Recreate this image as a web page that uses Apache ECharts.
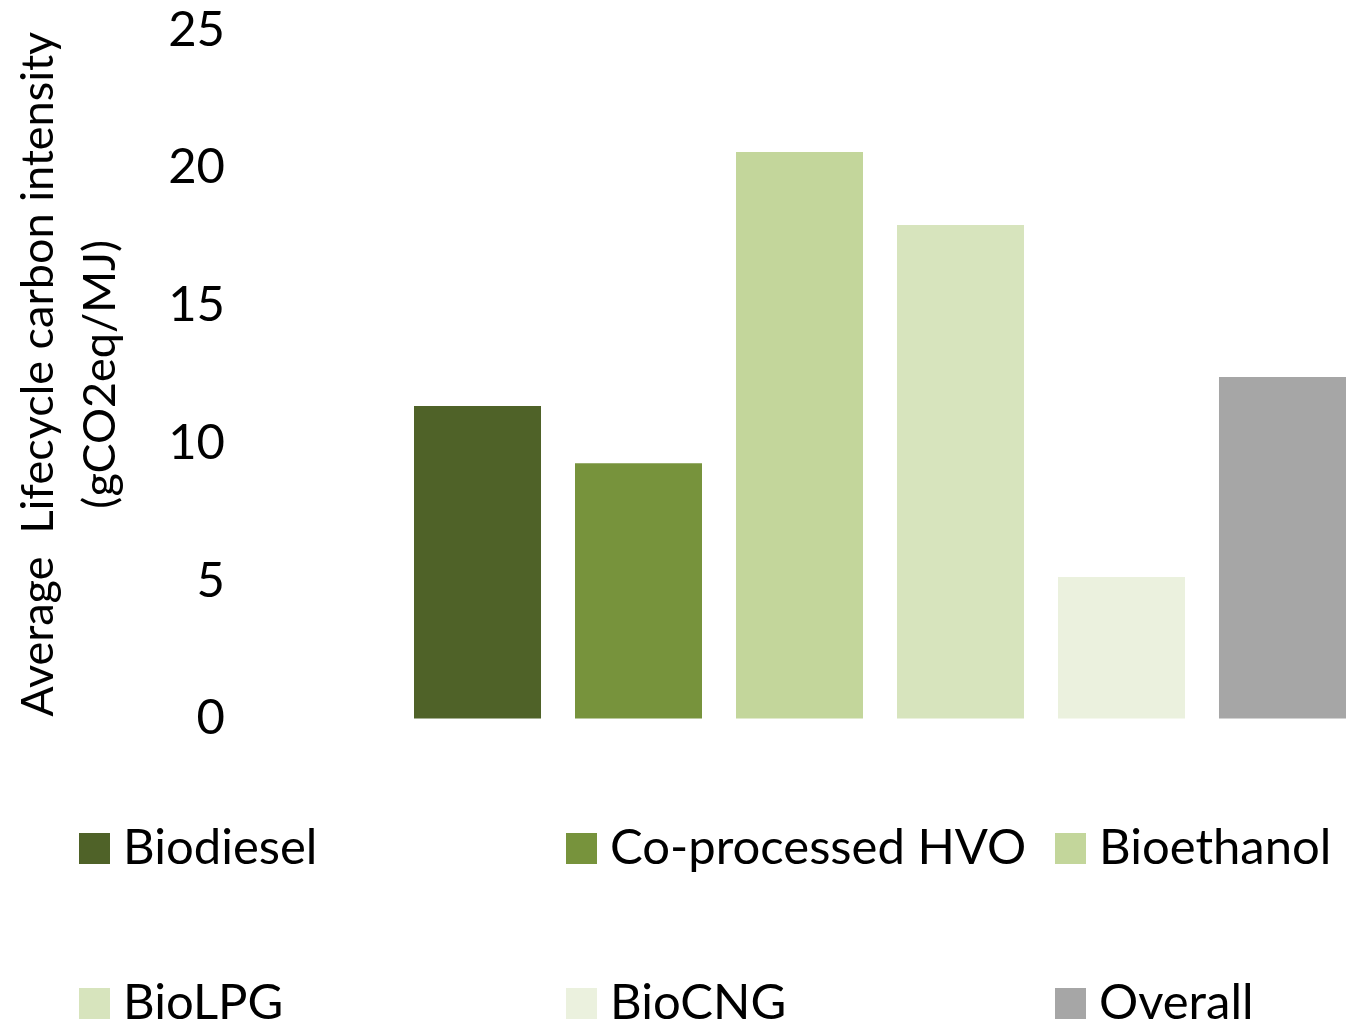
<!DOCTYPE html>
<html>
<head>
<meta charset="utf-8">
<script src="https://cdn.jsdelivr.net/npm/echarts@6/dist/echarts.min.js"></script>
<style>
  html, body { margin: 0; padding: 0; background: #fff; }
  #chart { width: 1346px; height: 1023px; }
</style>
</head>
<body>
<div id="chart"></div>
<script>
var fuels = ['Biodiesel', 'Co-processed HVO', 'Bioethanol', 'BioLPG', 'BioCNG', 'Overall'];
var intensity = [11.35, 9.27, 20.57, 17.92, 5.14, 12.4];
var colors = ['#4F6228', '#77933C', '#C3D69B', '#D7E4BD', '#EBF1DE', '#A6A6A6'];
var yTicks = [0, 5, 10, 15, 20, 25];

var font = 'Lato';
var fontSize = 49;

var chart = echarts.init(document.getElementById('chart'));

// legend is laid out as 3 columns x 2 rows, one legend block per item
var legendCols = [79, 566, 1055];
var legendRows = [824, 979];
var legends = fuels.map(function (name, i) {
    return {
        data: [name],
        left: legendCols[i % 3],
        top: legendRows[Math.floor(i / 3)],
        padding: 0,
        icon: 'rect',
        itemWidth: 31,
        itemHeight: 31,
        itemGap: 0,
        textStyle: {
            fontFamily: font,
            fontSize: fontSize,
            color: '#000',
            lineHeight: 31,
            padding: [0, 0, 0, 8]
        }
    };
});

var series = fuels.map(function (name, i) {
    return {
        name: name,
        type: 'bar',
        barWidth: 127,
        barGap: '26.77%',
        itemStyle: { color: colors[i] },
        data: [intensity[i]]
    };
});

var option = {
    animation: false,
    backgroundColor: '#fff',
    legend: legends,
    grid: {
        left: 414,
        right: 0,
        top: 30,
        bottom: 304.5,
        containLabel: false,
        outerBoundsMode: 'none'
    },
    xAxis: {
        type: 'category',
        data: [''],
        axisLine: { show: false },
        axisTick: { show: false },
        axisLabel: { show: false }
    },
    yAxis: {
        type: 'value',
        min: yTicks[0],
        max: yTicks[yTicks.length - 1],
        interval: 5,
        name: 'Average  Lifecycle carbon intensity\n(gCO2eq/MJ)',
        nameLocation: 'middle',
        nameRotate: 90,
        nameGap: 283,
        nameTextStyle: {
            fontFamily: font,
            fontSize: 45,
            color: '#000',
            lineHeight: 62
        },
        axisLine: { show: false },
        axisTick: { show: false },
        splitLine: { show: false },
        axisLabel: {
            margin: 189,
            fontFamily: font,
            fontSize: fontSize,
            color: '#000'
        }
    },
    series: series
};

chart.setOption(option);
</script>
</body>
</html>
